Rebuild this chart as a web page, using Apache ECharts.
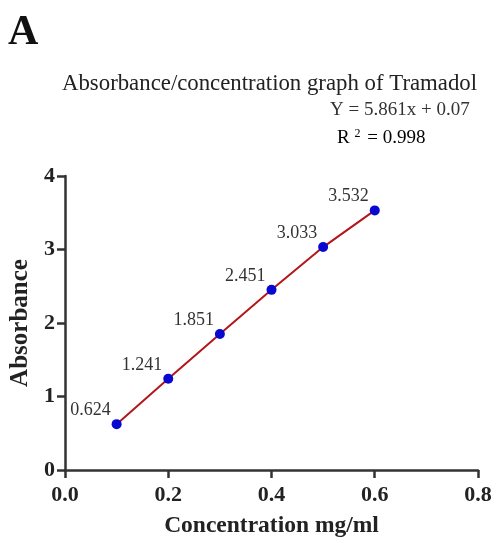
<!DOCTYPE html>
<html>
<head>
<meta charset="utf-8">
<script src="https://cdn.jsdelivr.net/npm/echarts@6/dist/echarts.min.js"></script>
<style>
  html, body { margin: 0; padding: 0; background: #fff; }
  #mainChart { width: 494px; height: 537px; }
</style>
</head>
<body>
<div id="mainChart"></div>
<script>
// 浓度 / 吸光度 数据
var concentration = [0.1, 0.2, 0.3, 0.4, 0.5, 0.6];
var absorbance = [0.624, 1.241, 1.851, 2.451, 3.033, 3.532];
var xTicks = [0.0, 0.2, 0.4, 0.6, 0.8];
var yTicks = [0, 1, 2, 3, 4];

var serif = '"Liberation Serif", "DejaVu Serif", serif';
var axisColor = '#333';

var points = concentration.map(function(c, i) { return [c, absorbance[i]]; });

var myChart = echarts.init(document.getElementById('mainChart'));

myChart.setOption({
    animation: false,
    title: {
        text: 'Absorbance/concentration graph of Tramadol',
        left: 57,
        top: 68,
        textStyle: { fontFamily: serif, fontSize: 22.8, fontWeight: 'normal', color: '#222' }
    },
    graphic: [
        { type: 'text', left: 8, top: 12,
          style: { text: 'A', font: 'bold 42px ' + serif, fill: '#111' } },
        { type: 'text', left: 330, top: 101,
          style: { text: 'Y = 5.861x + 0.07', font: '19px ' + serif, fill: '#333' } },
        { type: 'text', left: 337, top: 128,
          style: {
              text: '{r|R }{s|2}{r| = 0.998}',
              rich: {
                  r: { fontFamily: serif, fontSize: 19, color: '#333' },
                  s: { fontFamily: serif, fontSize: 12, color: '#333', verticalAlign: 'top', padding: [0, 2, 8, 0] }
              }
          } }
    ],
    grid: { left: 65, right: 16, top: 176, bottom: 67, containLabel: false, outerBoundsMode: 'none' },
    xAxis: {
        type: 'value',
        min: 0, max: 0.8, interval: 0.2,
        name: 'Concentration mg/ml',
        nameLocation: 'middle',
        nameGap: 44,
        nameTextStyle: { fontFamily: serif, fontSize: 23.5, fontWeight: 'bold', color: '#222' },
        splitLine: { show: false },
        axisLine: { lineStyle: { color: axisColor, width: 2.5 } },
        axisTick: { length: 8, lineStyle: { color: axisColor, width: 2.5 } },
        axisLabel: {
            fontFamily: serif, fontSize: 22, fontWeight: 'bold', color: '#222', margin: 14,
            formatter: function(v) { return v.toFixed(1); }
        }
    },
    yAxis: {
        type: 'value',
        min: 0, max: 4, interval: 1,
        name: 'Absorbance',
        nameLocation: 'middle',
        nameGap: 25,
        nameTextStyle: { fontFamily: serif, fontSize: 25, fontWeight: 'bold', color: '#222' },
        splitLine: { show: false },
        axisLine: { show: true, lineStyle: { color: axisColor, width: 2.5 } },
        axisTick: { show: true, length: 8, lineStyle: { color: axisColor, width: 2.5 } },
        axisLabel: { fontFamily: serif, fontSize: 22, fontWeight: 'bold', color: '#222', margin: 10 }
    },
    series: [{
        name: 'Absorbance',
        type: 'line',
        data: points,
        symbol: 'circle',
        symbolSize: 10,
        lineStyle: { color: '#b3161b', width: 2 },
        itemStyle: { color: '#0808d0' },
        label: {
            show: true,
            position: 'left',
            offset: [4, -14],
            fontFamily: serif,
            fontSize: 18,
            color: '#333',
            formatter: function(p) { return p.value[1].toFixed(3); }
        }
    }]
});
</script>
</body>
</html>
